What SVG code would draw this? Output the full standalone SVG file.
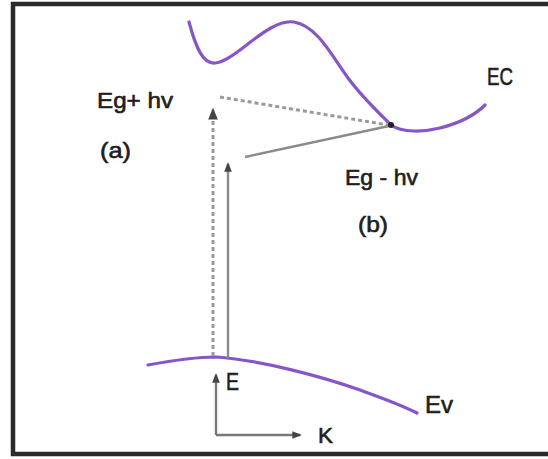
<svg xmlns="http://www.w3.org/2000/svg" width="548" height="459" viewBox="0 0 548 459">
<defs>
<style>
.band{fill:none;stroke:#8656c8;stroke-width:3.2;stroke-linecap:round;stroke-linejoin:round}
.lbl{font-family:"Liberation Sans",Arial,sans-serif;font-size:22px;fill:#1e1e1e;stroke:#1e1e1e;stroke-width:0.6}
.big{font-size:24px}
.conn{fill:none;stroke:#8a8a8a;stroke-width:2.4}
.dash{fill:none;stroke:#9a9a9a;stroke-width:3;stroke-dasharray:4 3}
</style>
<marker id="ah" viewBox="0 0 10 10" refX="8" refY="5" markerWidth="4" markerHeight="4" orient="auto">
<path d="M0,1 L10,5 L0,9 z" fill="#444"/>
</marker>
</defs>
<rect x="0" y="0" width="548" height="459" fill="#ffffff"/>
<path d="M548,4 H13 V454 H548" fill="none" stroke="#2a2a2a" stroke-width="4.5"/>
<g id="conduction-band">
<path class="band" d="M189,22 C196,48 203,64 215,63 C235,62 268,18 294,22 C318,26 333,58 348,78 C362,97 378,112 391,125 C402,133 424,132 440,128 C460,123 474,116 485,105"/>
<text class="lbl big" x="487" y="85" textLength="26" lengthAdjust="spacingAndGlyphs">EC</text>
</g>
<g id="valence-band">
<path class="band" d="M148,365 C175,360 200,357 216,357 C260,360 320,376 360,390 C385,399 402,405 417,413"/>
<text class="lbl big" x="425" y="413" textLength="28" lengthAdjust="spacingAndGlyphs">Ev</text>
</g>
<g id="label-a">
<text class="lbl" x="97" y="108" textLength="76" lengthAdjust="spacingAndGlyphs">Eg+ hv</text>
<text class="lbl" x="100" y="158" textLength="31" lengthAdjust="spacingAndGlyphs">(a)</text>
</g>
<g id="label-b">
<text class="lbl" x="345" y="185" textLength="73" lengthAdjust="spacingAndGlyphs">Eg - hv</text>
<text class="lbl" x="358" y="232" textLength="30" lengthAdjust="spacingAndGlyphs">(b)</text>
</g>
<g id="axes">
<path d="M216,435 V375" fill="none" stroke="#777" stroke-width="2.4" marker-end="url(#ah)"/>
<path d="M216,435 H300" fill="none" stroke="#777" stroke-width="2.4" marker-end="url(#ah)"/>
<text class="lbl big" x="226" y="390" textLength="13" lengthAdjust="spacingAndGlyphs">E</text>
<text class="lbl" x="318" y="443" textLength="15" lengthAdjust="spacingAndGlyphs">K</text>
</g>
<g id="connectors">
<path class="dash" d="M213,356 V110" marker-end="url(#ah)"/>
<path class="dash" d="M220,97 L388,125"/>
<path class="conn" d="M228,358 V164" marker-end="url(#ah)"/>
<path class="conn" d="M245,157 L389,126"/>
<circle cx="391" cy="125" r="3" fill="#222"/>
</g>
</svg>
